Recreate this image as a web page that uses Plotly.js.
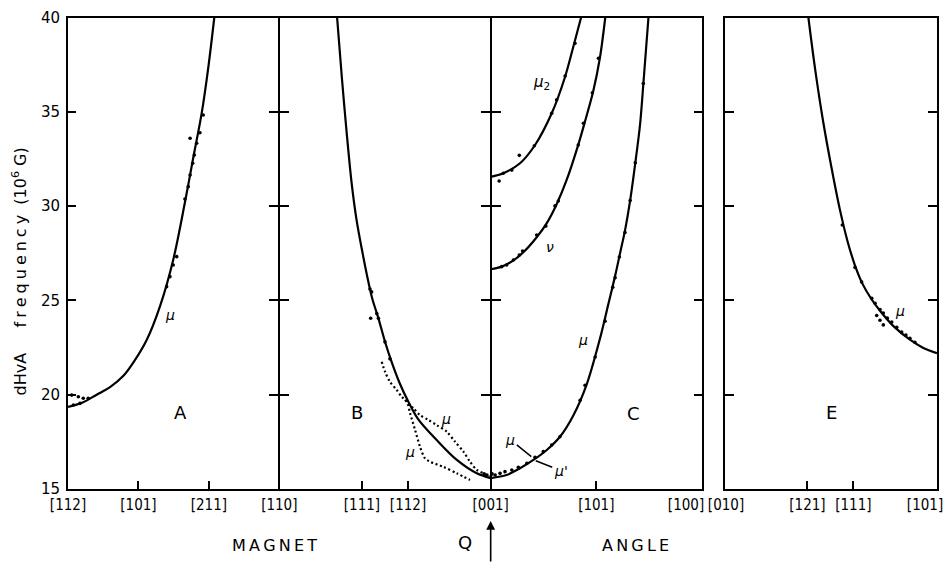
<!DOCTYPE html>
<html><head><meta charset="utf-8">
<script src="https://cdn.plot.ly/plotly-3.0.1.min.js"></script>
<style>html,body{margin:0;padding:0;background:#fff}#chart{width:950px;height:563px}</style>
</head><body><div id="chart"></div>
<script>
// ---------- axis ticks ----------
const yTicks = [15, 20, 25, 30, 35, 40];
const innerTicks = [20, 25, 30, 35];
const mainTickPos = [0, 30, 60, 90, 125.2, 144.8, 180, 225, 270];
const mainTickLabels = ['[112]', '[101]', '[211]', '[110]', '[111]', '[112]', '[001]', '[101]', '[100]'];
const eTickPos = [0, 35, 54.5, 90];
const eTickLabels = ['[010]', '[121]', '[111]', '[101]'];

// ---------- panel A ----------
const aCurveX = [0, 6.5, 12.2, 17.9, 23.6, 27.8, 33.5, 39.2, 44.9, 49.8, 53.4, 56.9, 59.8, 62.3];
const aCurveY = [19.35, 19.6, 20.0, 20.4, 21.0, 21.7, 22.9, 24.7, 27.2, 30.2, 32.6, 34.9, 37.4, 40];
const aDotsX = [57.6, 56.2, 54.8, 53.8, 53.1, 52.0, 51.2, 49.8, 52.0, 42.0, 43.4, 44.8, 46.3, 1.6, 4.4, 6.5, 8.6, 2.3, 5.1];
const aDotsY = [34.83, 33.89, 33.33, 32.71, 32.27, 31.65, 31.03, 30.38, 33.6, 25.73, 26.26, 26.88, 27.32, 19.98, 19.89, 19.81, 19.81, 19.45, 19.54];

// ---------- panel B ----------
const bCurveX = [114.6, 116.6, 118.7, 120.8, 122.9, 125.2, 127.3, 129.5, 132.2, 135.0, 138.0, 141.4, 144.8, 149.1, 157.0, 165.6, 174.1, 180];
const bCurveY = [40, 36.86, 33.86, 31.21, 29.26, 27.67, 26.35, 25.13, 24.05, 22.81, 21.68, 20.57, 19.67, 18.71, 17.60, 16.54, 15.83, 15.57];
const bUpperX = [143.5, 147.1, 149.9, 153.5, 157.0, 161.3, 164.8, 168.4, 171.2, 174.1, 176.9, 179.5];
const bUpperY = [19.72, 19.28, 18.92, 18.66, 18.39, 18.04, 17.51, 16.98, 16.45, 16.01, 15.83, 15.65];
const bLowerX = [133.6, 135.0, 137.1, 140.0, 142.1, 144.3, 145.7, 147.8, 149.9, 152.0, 154.2, 159.8, 165.6, 171.2];
const bLowerY = [21.75, 21.22, 20.69, 20.25, 19.89, 19.63, 19.01, 18.13, 17.24, 16.63, 16.45, 16.18, 15.83, 15.48];
const bDotsX = [128.6, 129.3, 128.9, 131.5, 132.2, 135.0, 137.1];
const bDotsY = [25.6, 25.45, 24.05, 24.3, 24.05, 22.8, 21.9];

// ---------- panel C ----------
const cMu2X = [180, 185.4, 192.5, 198.9, 206.0, 211.7, 215.2, 218.5];
const cMu2Y = [31.55, 31.74, 32.27, 33.24, 34.92, 36.86, 38.45, 40];
const cMu2DotsX = [183.6, 185.4, 189.0, 192.2, 198.6, 206.0, 208.1, 211.7, 215.9];
const cMu2DotsY = [31.33, 31.74, 31.91, 32.69, 33.2, 34.92, 35.63, 36.9, 38.63];
const cNuX = [180, 184.7, 189.7, 193.9, 199.6, 203.9, 208.1, 212.4, 217.3, 220.2, 223.7, 226.6, 228.8];
const cNuY = [26.65, 26.79, 27.12, 27.55, 28.35, 29.1, 30.1, 31.4, 33.25, 34.5, 36.1, 37.92, 40];
const cNuDotsX = [184.7, 186.8, 189.7, 192.2, 193.6, 199.6, 203.5, 207.4, 208.8, 217.3, 219.5, 223.3, 225.9];
const cNuDotsY = [26.79, 26.88, 27.14, 27.41, 27.62, 28.47, 28.94, 30.01, 30.27, 33.24, 34.39, 36.01, 37.84];
const cMuX = [180, 186.8, 192.5, 198.2, 203.9, 209.5, 215.2, 220.9, 226.6, 230.1, 233.0, 235.1, 237.2, 239.4, 241.5, 243.6, 245.1, 247.2];
const cMuY = [15.58, 15.74, 16.10, 16.54, 17.07, 17.77, 18.9, 20.55, 23.0, 24.8, 26.3, 27.5, 28.7, 30.3, 32.2, 34.3, 36.6, 40];
const cMuDotsX = [218.1, 220.2, 224.5, 228.7, 232.0, 233.0, 234.8, 237.2, 239.4, 241.6, 245.0];
const cMuDotsY = [19.7, 20.5, 22.0, 23.9, 25.7, 26.2, 27.3, 28.6, 30.3, 32.3, 36.5];
const cMuPrimeX = [177.2, 178.4, 180.6, 181.9, 184.0, 186.1, 189.0, 191.8, 195.4, 198.9, 202.4, 206.0, 209.5];
const cMuPrimeY = [15.8, 15.74, 15.8, 15.74, 15.83, 15.92, 16.01, 16.15, 16.36, 16.68, 16.98, 17.33, 17.77];

// ---------- panel E ----------
const eCurveX = [35.4, 38.2, 41.7, 45.3, 48.8, 52.1, 55.2, 58.5, 62.0, 65.8, 71.4, 78.5, 84.2, 90];
const eCurveY = [40, 37.32, 34.46, 31.98, 29.8, 28.1, 26.85, 25.85, 25.1, 24.45, 23.65, 22.92, 22.48, 22.2];
const eDotsX = [49.8, 55.2, 58.0, 62.3, 63.7, 65.8, 67.2, 68.9, 70.8, 72.9, 75.0, 76.8, 78.5, 80.6, 64.4, 65.8, 67.2];
const eDotsY = [29.0, 26.75, 25.98, 25.11, 24.85, 24.52, 24.33, 24.06, 23.85, 23.58, 23.32, 23.16, 22.99, 22.78, 24.2, 23.95, 23.7];

// ---------- build ----------
const FONT = 'DejaVu Sans, Liberation Sans, sans-serif';
const TICKFONT = 'Liberation Sans Narrow, DejaVu Sans Condensed, DejaVu Sans, sans-serif';
const BLACK = '#000';
const W = 950, H = 563;
const mainDom = [68 / W, 702 / W];
const eDom = [725 / W, 937 / W];
const yDom = [1 - 489 / H, 1 - 17.5 / H];
const posAt = v => mainDom[0] + (v / 270) * (mainDom[1] - mainDom[0]);
const pxMain = (mainDom[1] - mainDom[0]) * W / 270;
const pxE = (eDom[1] - eDom[0]) * W / 90;

function curve(x, y, xa, ya) {
  return {x, y, xaxis: xa || 'x', yaxis: ya || 'y', mode: 'lines', hoverinfo: 'skip',
    line: {color: BLACK, width: 2.2, shape: 'spline', smoothing: 0.9}};
}
function dotted(x, y) {
  return {x, y, xaxis: 'x', yaxis: 'y', mode: 'lines', hoverinfo: 'skip',
    line: {color: BLACK, width: 2.2, dash: '2px,2.6px', shape: 'spline', smoothing: 0.8}};
}
function dots(x, y, xa, ya) {
  return {x, y, xaxis: xa || 'x', yaxis: ya || 'y', mode: 'markers', hoverinfo: 'skip',
    marker: {color: BLACK, size: 3.6}};
}

const traces = [
  curve(aCurveX, aCurveY), dots(aDotsX, aDotsY),
  curve(bCurveX, bCurveY), dotted(bUpperX, bUpperY), dotted(bLowerX, bLowerY), dots(bDotsX, bDotsY),
  curve(cMu2X, cMu2Y), dots(cMu2DotsX, cMu2DotsY),
  curve(cNuX, cNuY), dots(cNuDotsX, cNuDotsY),
  curve(cMuX, cMuY), dots(cMuDotsX, cMuDotsY), dots(cMuPrimeX, cMuPrimeY),
  curve(eCurveX, eCurveY, 'x2', 'y2'), dots(eDotsX, eDotsY, 'x2', 'y2'),
  {x: [], y: [], xaxis: 'x', yaxis: 'y4'}, {x: [], y: [], xaxis: 'x', yaxis: 'y5'},
  {x: [], y: [], xaxis: 'x', yaxis: 'y6'}, {x: [], y: [], xaxis: 'x', yaxis: 'y7'},
  {x: [], y: [], xaxis: 'x3', yaxis: 'y'}, {x: [], y: [], xaxis: 'x4', yaxis: 'y2'}
];

// label positions: end labels nudged inward as in the original lettering
const mainLabelPos = mainTickPos.map((v, i) => i === mainTickPos.length - 1 ? v - 16 / pxMain : v);
const eLabelPos = eTickPos.map((v, i) => i === eTickPos.length - 1 ? v - 12 / pxE : (i === 0 ? v + 1 / pxE : v));

const axBase = {showgrid: false, zeroline: false, showline: true, linewidth: 2, linecolor: BLACK,
  tickcolor: BLACK, tickwidth: 2, fixedrange: true, tickfont: {family: FONT, size: 14, color: BLACK}};

function crossAxis(pos, side) {
  return Object.assign({}, axBase, {overlaying: 'y', anchor: 'free', position: pos, side: side,
    range: [15, 40], tickmode: 'array', tickvals: innerTicks, ticks: 'outside', ticklen: 9,
    showticklabels: false});
}
function labelAxis(over, anchor, range, vals, text) {
  return {overlaying: over, anchor: anchor, side: 'bottom', range: range, showline: false, showgrid: false,
    zeroline: false, ticks: '', tickmode: 'array', tickvals: vals, ticktext: text, fixedrange: true,
    ticklabeloverflow: 'allow', ticklabelstandoff: 5,
    tickfont: {family: TICKFONT, size: 15, color: BLACK}};
}

const layout = {
  width: W, height: H, margin: {l: 0, r: 0, t: 0, b: 0, pad: 0},
  paper_bgcolor: '#fff', plot_bgcolor: 'rgba(0,0,0,0)', showlegend: false,
  font: {family: FONT, color: BLACK},
  xaxis: Object.assign({}, axBase, {domain: mainDom, range: [0, 270], anchor: 'y',
    tickmode: 'array', tickvals: mainTickPos, ticks: 'inside', ticklen: 8, mirror: true,
    showticklabels: false}),
  xaxis3: labelAxis('x', 'y', [0, 270], mainLabelPos, mainTickLabels),
  yaxis: Object.assign({}, axBase, {domain: yDom, range: [15, 40], anchor: 'x',
    tickmode: 'array', tickvals: yTicks, ticks: 'inside', ticklen: 8, mirror: 'ticks',
    tickfont: {family: FONT, size: 15, color: BLACK}, ticklabelstandoff: 3}),
  xaxis2: Object.assign({}, axBase, {domain: eDom, range: [0, 90], anchor: 'y2',
    tickmode: 'array', tickvals: eTickPos, ticks: 'inside', ticklen: 8, mirror: true,
    showticklabels: false}),
  xaxis4: labelAxis('x2', 'y2', [0, 90], eLabelPos, eTickLabels),
  yaxis2: Object.assign({}, axBase, {domain: yDom, range: [15, 40], anchor: 'x2',
    tickmode: 'array', tickvals: innerTicks, ticks: 'inside', ticklen: 9, mirror: 'ticks', showticklabels: false}),
  yaxis4: crossAxis(posAt(90), 'left'),
  yaxis5: crossAxis(posAt(90), 'right'),
  yaxis6: crossAxis(posAt(180), 'left'),
  yaxis7: crossAxis(posAt(180), 'right'),
  annotations: []
};

const A = layout.annotations;
function lab(text, x, y, size, xref, yref) {
  A.push({text, x, y, xref: xref || 'x', yref: yref || 'y', showarrow: false,
    font: {family: FONT, size: size, color: BLACK}, xanchor: 'center', yanchor: 'middle'});
}
// panel letters
lab('A', 47.7, 19.05, 18);
lab('B', 123.1, 19.05, 18);
lab('C', 241.0, 19.0, 18);
lab('E', 45.4, 19.05, 18, 'x2', 'y2');
// branch labels
lab('<i>μ</i>', 43.4, 24.2, 14);
lab('<i>μ</i>', 161, 18.7, 14);
lab('<i>μ</i>', 145.6, 16.95, 14);
lab('<i>μ</i><sub>2</sub>', 201.5, 36.55, 15);
lab('<i>ν</i>', 205.3, 27.85, 14);
lab('<i>μ</i>', 219.3, 22.9, 14);
lab('<i>μ</i>', 74.3, 24.45, 14, 'x2', 'y2');
A.push({text: '<i>μ</i>', x: 197.3, y: 16.72, xref: 'x', yref: 'y', ax: -21, ay: -17,
  showarrow: true, arrowhead: 0, arrowwidth: 1.5, arrowcolor: BLACK, standoff: 0,
  font: {family: FONT, size: 14, color: BLACK}});
A.push({text: "<i>μ'</i>", x: 199.2, y: 16.5, xref: 'x', yref: 'y', ax: 25, ay: 10,
  showarrow: true, arrowhead: 0, arrowwidth: 1.5, arrowcolor: BLACK, standoff: 0,
  font: {family: FONT, size: 14, color: BLACK}});
// bottom texts
const sp = '\u2009';
lab(['M','A','G','N','E','T'].join(sp), 274 / W, 1 - 545 / H, 16, 'paper', 'paper');
lab(['A','N','G','L','E'].join(sp), 635 / W, 1 - 545 / H, 16, 'paper', 'paper');
lab('Q', 465 / W, 1 - 542 / H, 18, 'paper', 'paper');
A.push({text: '', x: 180, xref: 'x', y: 1 - 521 / H, yref: 'paper', ax: 0, ay: 42,
  showarrow: true, arrowhead: 2, arrowsize: 1.1, arrowwidth: 1.6, arrowcolor: BLACK, standoff: 0});
// y title
const fr = 'frequency'.split('').join('\u2005');
A.push({text: 'dHvA' + '&nbsp;'.repeat(5) + fr + '&nbsp;&nbsp;' + '(10<sup>6</sup>&nbsp;G)', textangle: -90,
  x: 20 / W, y: 1 - 271.5 / H, xref: 'paper', yref: 'paper', showarrow: false,
  xanchor: 'center', yanchor: 'middle', font: {family: FONT, size: 16, color: BLACK}});

Plotly.newPlot('chart', traces, layout, {staticPlot: true, displayModeBar: false});
</script></body></html>
